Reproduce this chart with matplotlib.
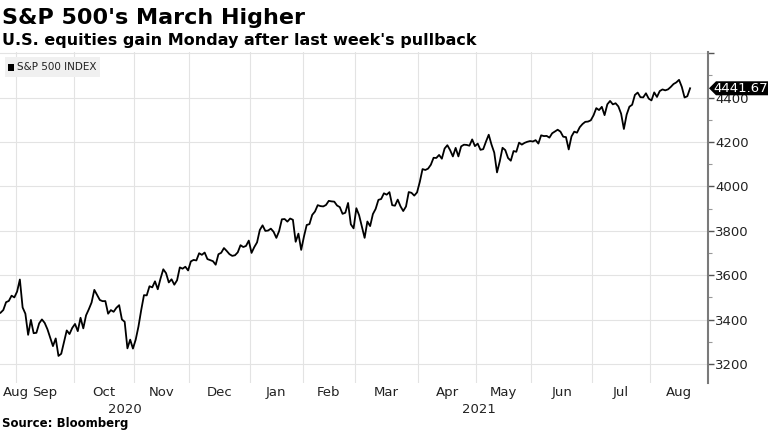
import matplotlib.pyplot as plt
import matplotlib
import numpy as np
from matplotlib.patches import Rectangle, Polygon

matplotlib.rcParams['font.family'] = ['DejaVu Sans']

# S&P 500 daily closes, one list per month (trading days only)
months = ['Aug', 'Sep', 'Oct', 'Nov', 'Dec', 'Jan', 'Feb', 'Mar', 'Apr', 'May', 'Jun', 'Jul', 'Aug']
years = ['2020', '2021']
aug20 = [3431.28, 3443.62, 3478.73, 3484.55, 3508.01, 3500.31]
sep20 = [3526.65, 3580.84, 3455.06, 3426.96, 3331.84, 3398.96, 3339.19, 3340.97, 3383.54, 3401.20,
         3385.49, 3357.01, 3319.47, 3281.06, 3315.57, 3236.92, 3246.59, 3298.46, 3351.60, 3335.47, 3363.00]
oct20 = [3380.80, 3348.42, 3408.60, 3360.97, 3419.44, 3446.83, 3477.14, 3534.22, 3511.93, 3488.67,
         3483.34, 3483.81, 3426.92, 3443.12, 3435.56, 3453.49, 3465.39, 3400.97, 3390.68, 3271.03,
         3310.11, 3269.96]
nov20 = [3310.24, 3369.16, 3443.44, 3510.45, 3509.44, 3550.50, 3545.53, 3572.66, 3537.01, 3585.15,
         3626.91, 3609.53, 3567.79, 3581.87, 3557.54, 3577.59, 3635.41, 3629.65, 3638.35, 3621.63]
dec20 = [3662.45, 3669.01, 3666.72, 3699.12, 3691.96, 3702.25, 3672.82, 3668.10, 3663.46, 3647.49,
         3694.62, 3701.17, 3722.48, 3709.41, 3694.92, 3687.26, 3690.01, 3703.06, 3735.36, 3727.04,
         3732.04, 3756.07]
jan21 = [3700.65, 3726.86, 3748.14, 3803.79, 3824.68, 3799.61, 3801.19, 3809.84, 3795.54, 3768.25,
         3798.91, 3851.85, 3853.07, 3841.47, 3855.36, 3849.62, 3750.77, 3787.38, 3714.24]
feb21 = [3773.86, 3826.31, 3830.17, 3871.74, 3886.83, 3915.59, 3911.23, 3909.88, 3916.38, 3934.83,
         3932.59, 3931.33, 3913.97, 3906.71, 3876.50, 3881.37, 3925.43, 3829.34, 3811.15]
mar21 = [3901.82, 3870.29, 3819.72, 3768.47, 3841.94, 3821.35, 3875.44, 3898.81, 3939.34, 3943.34,
         3968.94, 3962.71, 3974.12, 3915.46, 3913.10, 3940.59, 3910.52, 3889.14, 3909.52, 3974.54,
         3971.09, 3958.55, 3972.89]
apr21 = [4019.87, 4077.91, 4073.94, 4079.95, 4097.17, 4128.80, 4127.99, 4141.59, 4124.66, 4170.42,
         4185.47, 4163.26, 4134.94, 4173.42, 4134.98, 4180.17, 4187.62, 4186.72, 4183.18, 4211.47,
         4181.17]
may21 = [4192.66, 4164.66, 4167.59, 4201.62, 4232.60, 4188.43, 4152.10, 4063.04, 4112.50, 4173.85,
         4163.29, 4127.83, 4115.68, 4159.12, 4155.86, 4197.05, 4188.13, 4195.99, 4200.88, 4204.11]
jun21 = [4202.04, 4208.12, 4192.85, 4229.89, 4226.52, 4227.26, 4219.55, 4239.18, 4247.44, 4255.15,
         4246.59, 4223.70, 4221.86, 4166.45, 4224.79, 4246.44, 4241.84, 4266.49, 4280.70, 4290.61,
         4291.80, 4297.50]
jul21 = [4319.94, 4352.34, 4343.54, 4358.13, 4320.82, 4369.55, 4384.63, 4369.21, 4374.30, 4360.03,
         4327.16, 4258.49, 4323.06, 4358.69, 4367.48, 4411.79, 4422.30, 4401.46, 4400.64, 4419.15,
         4395.26]
aug21 = [4387.16, 4423.15, 4402.66, 4429.10, 4436.52, 4432.35, 4436.75, 4447.70, 4460.83, 4468.00,
         4479.71, 4448.08, 4400.27, 4405.80, 4441.67]

by_month = [aug20, sep20, oct20, nov20, dec20, jan21, feb21, mar21, apr21, may21, jun21, jul21, aug21]
closes = np.concatenate(by_month)
x = np.arange(len(closes))

fig = plt.figure(figsize=(7.68, 4.32), dpi=100)
ax = fig.add_axes([0, 1 - 383 / 432, 708 / 768, 331 / 432])

x_right = 256.5
ax.set_xlim(-0.2, x_right)
ax.set_ylim(3115, 4605)

grid_c = '#e3e3e3'
# month boundaries
starts = np.cumsum([0] + [len(m) for m in by_month])
bounds = starts[1:-1] - 0.5
for b in bounds:
    ax.axvline(b, color=grid_c, lw=0.8, zorder=0)
for v in range(3200, 4601, 200):
    ax.axhline(v, color=grid_c, lw=0.8, zorder=0)

ax.plot(x, closes, color='black', lw=1.3, zorder=3)

# axes styling
for s in ['top', 'left', 'bottom']:
    ax.spines[s].set_visible(False)
ax.spines['right'].set_color('#7a7a7a')
ax.spines['right'].set_linewidth(1.5)
ax.set_xticks([])
ax.yaxis.tick_right()
ax.set_yticks(range(3200, 4601, 200))
ax.set_yticklabels([str(v) for v in range(3200, 4401, 200)] + [''])
ax.set_yticks(range(3300, 4601, 200), minor=True)
ax.tick_params(axis='y', which='major', length=4, width=1, color='#555555',
               labelsize=9.5, labelcolor='#222222', pad=1)
ax.tick_params(axis='y', which='minor', length=3, width=0.8, color='#999999')

# month labels
edges = list(bounds) + [x_right]
lefts = [-0.2] + list(bounds)
for i, name in enumerate(months):
    c = (lefts[i] + edges[i]) / 2
    if i == 0:
        ax.text(1.0, -0.03, name, transform=ax.get_xaxis_transform(), ha='left', va='center',
                fontsize=9.5, color='#222222')
    else:
        ax.text(c, -0.03, name, transform=ax.get_xaxis_transform(), ha='center', va='center',
                fontsize=9.5, color='#222222')
ylab = [(-0.2 + bounds[4]) / 2, (bounds[4] + x_right) / 2]
for c, yr in zip(ylab, years):
    ax.text(c, -0.079, yr, transform=ax.get_xaxis_transform(), ha='center', va='center',
            fontsize=9.5, color='#222222')

# legend box
ax.add_patch(Rectangle((5 / 708, 1 - 25 / 331), 95 / 708, 20 / 331, transform=ax.transAxes,
                       facecolor='#f0f0f0', edgecolor='none', zorder=4))
ax.add_patch(Rectangle((8 / 708, 1 - 19 / 331), 6 / 708, 7 / 331, transform=ax.transAxes,
                       facecolor='black', edgecolor='none', zorder=5))
ax.text(17 / 708, 1 - 15 / 331, 'S&P 500 INDEX', transform=ax.transAxes, ha='left', va='center',
        fontsize=7.5, color='#222222', zorder=5)

# last value tag
last = closes[-1]
fy = ax.transData.transform((0, last))[1] / 432
tag = Polygon([(709 / 768, fy), (716 / 768, fy + 7 / 432), (768 / 768, fy + 7 / 432),
               (768 / 768, fy - 7 / 432), (716 / 768, fy - 7 / 432)],
              closed=True, transform=fig.transFigure, facecolor='black', edgecolor='none', zorder=6)
fig.patches.append(tag)
fig.text(741 / 768, fy, '{:.2f}'.format(last), ha='center', va='center', fontsize=9.5,
         color='white', zorder=7)

# titles
fig.text(2 / 768, 1 - 18 / 432, "S&P 500's March Higher", ha='left', va='center',
         fontsize=16, fontweight='bold', color='black')
fig.text(2 / 768, 1 - 41 / 432, "U.S. equities gain Monday after last week's pullback", ha='left',
         va='center', fontsize=11.5, fontweight='bold', color='black')
fig.text(2 / 768, 1 - 424 / 432, 'Source: Bloomberg', ha='left', va='center',
         fontsize=8.5, fontweight='bold', color='black')

fig.savefig('out.png', dpi=100)
